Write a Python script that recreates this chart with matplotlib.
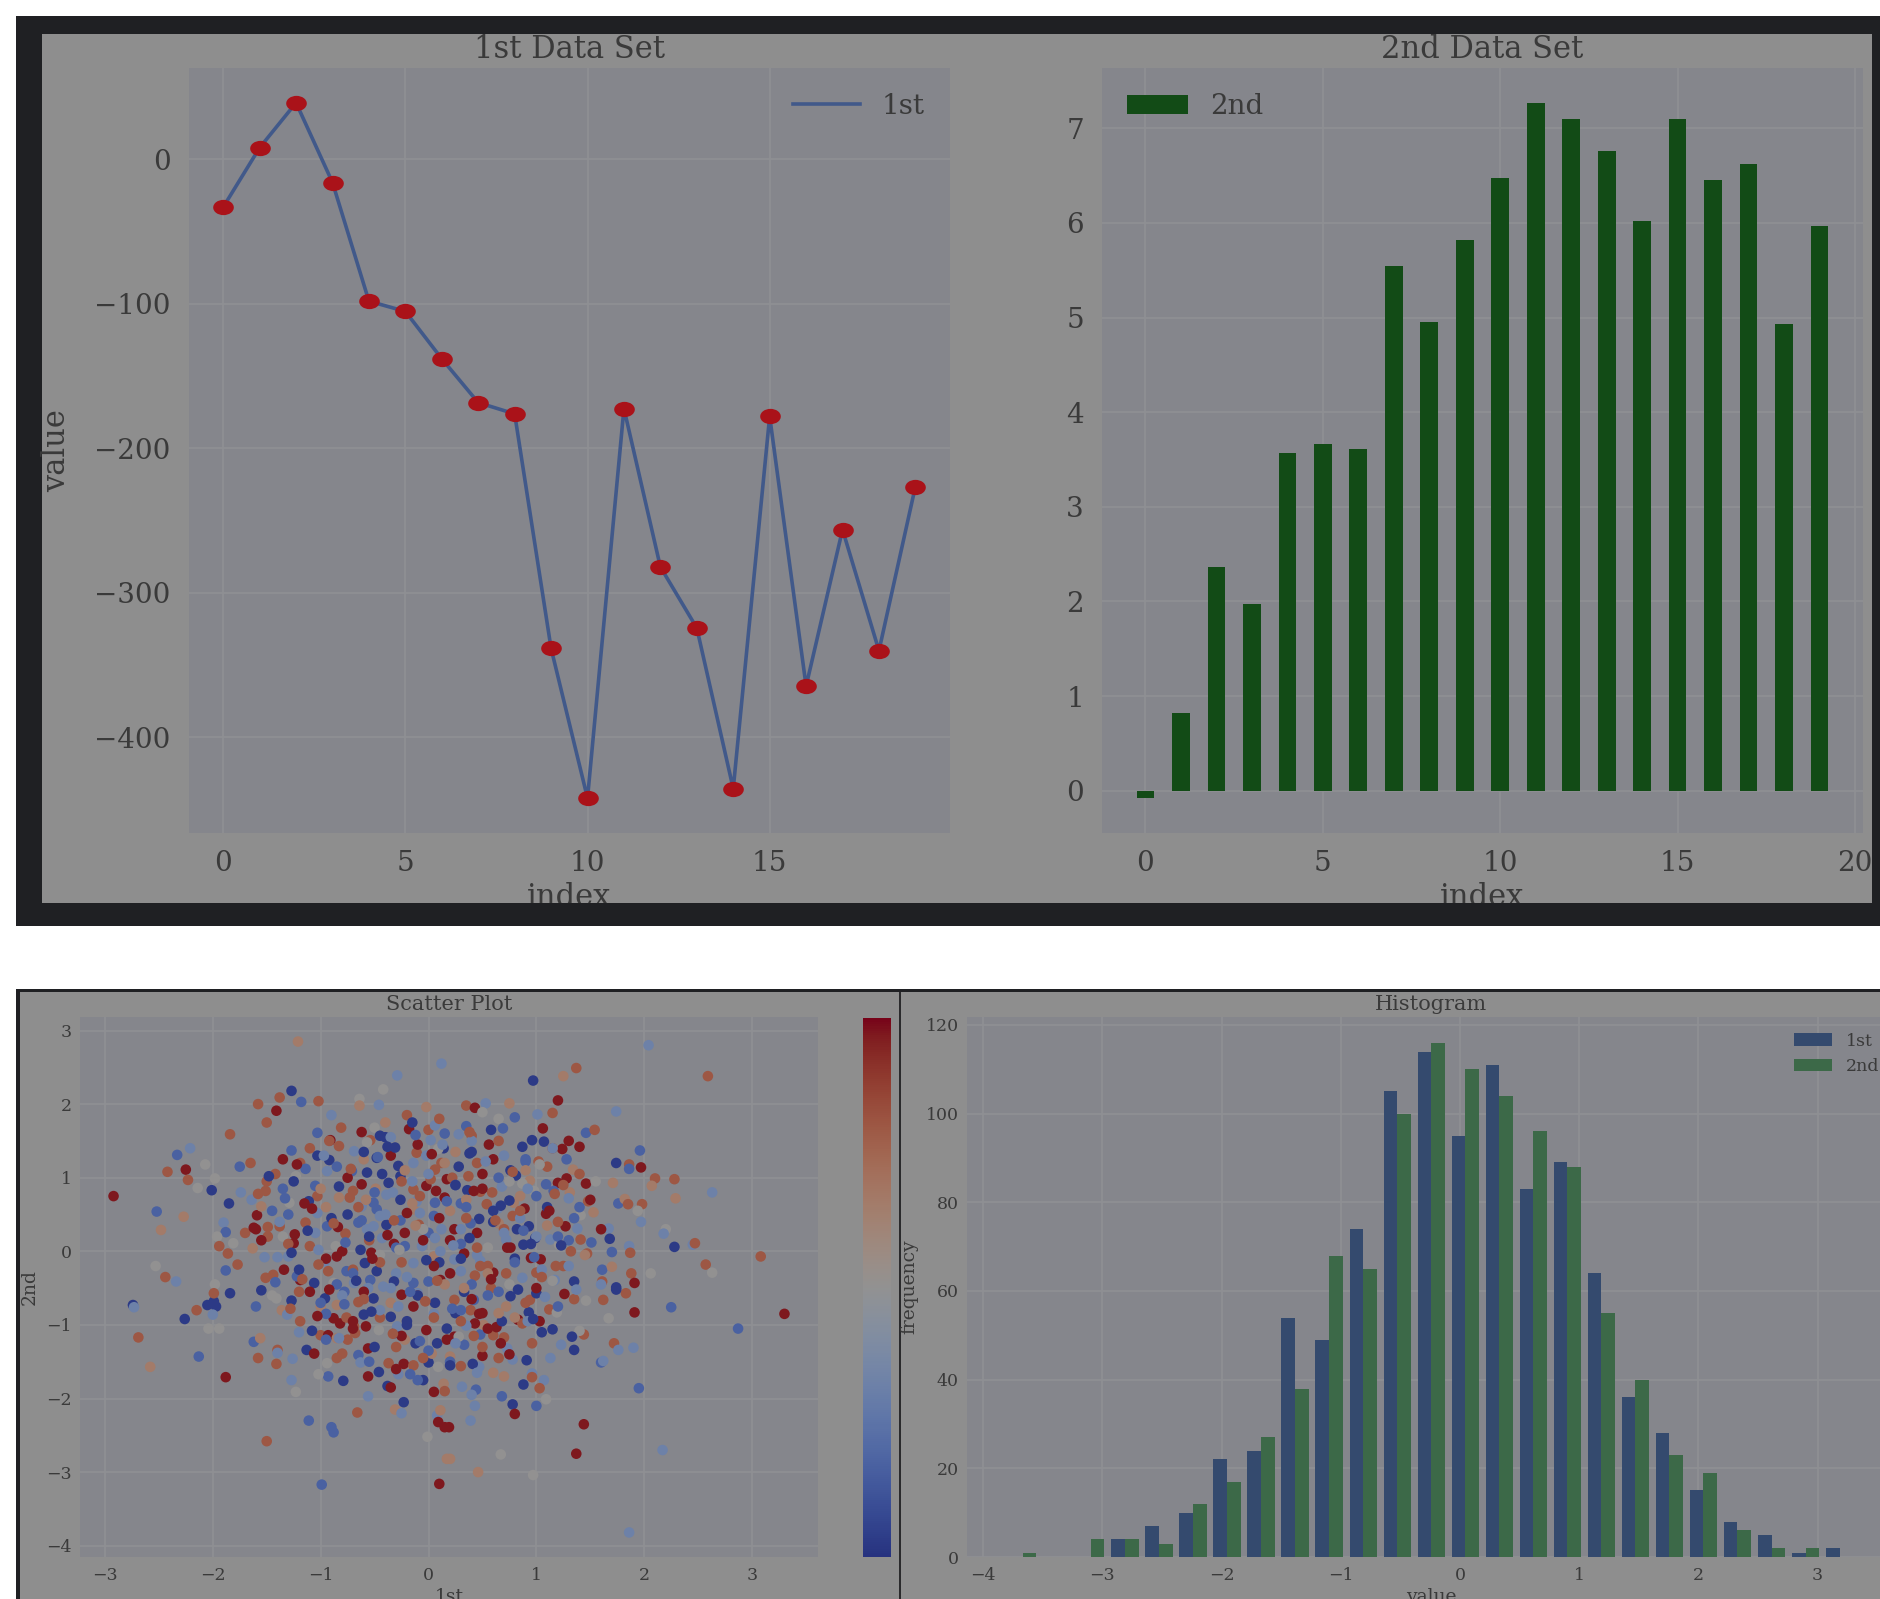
import numpy as np
import matplotlib
matplotlib.use("Agg")
import matplotlib.pyplot as plt
from matplotlib.colors import ListedColormap
from matplotlib.markers import MarkerStyle
from matplotlib.patches import Rectangle
from matplotlib.transforms import Affine2D

# canvas in pixels (dpi 100)
W, H = 1880, 1599

# ---------------- data ----------------
index = np.arange(20)
first_series = [-33.2, 7.9, 39.0, -16.2, -98.3, -105.4, -138.2, -168.5, -176.3, -338.6,
                -442.3, -172.6, -282.2, -324.5, -435.7, -178.0, -364.7, -256.4, -340.2, -226.6]
second_series = [-0.08, 0.82, 2.36, 1.97, 3.57, 3.66, 3.61, 5.54, 4.95, 5.82,
                 6.47, 7.27, 7.10, 6.76, 6.02, 7.10, 6.45, 6.62, 4.93, 5.97]

# histogram: 25 bins between the smallest and largest sample
hist_lo, hist_hi = -3.81, 3.327
hist_1st = [0, 0, 0, 4, 7, 10, 22, 24, 54, 49, 74, 105, 114, 95, 111, 83, 89, 64, 36, 28, 15, 8, 5, 1, 2]
hist_2nd = [1, 0, 4, 4, 3, 12, 17, 27, 38, 68, 65, 100, 116, 110, 104, 96, 88, 55, 40, 23, 19, 6, 2, 2, 0]

# scatter points, grouped by region; colour shade as a letter code
# upper left
sc_ul_x = [-1.21, 0.12, -0.29, -0.42, -1.27, -1.38, -1.18, -1.02, -1.58, -1.41,
           -1.50, -0.64, -0.64, -0.46, -0.02, -1.84, -0.81, -1.03, -0.91, -0.40,
           -0.50, -0.18, 0.00, 0.06, -0.40, -0.54, -2.33, -2.21, -2.42, -2.25,
           -2.23, -2.07, -1.98, -2.14, -2.01, -1.75, -1.27, -1.19, -1.03, -0.92,
           -0.83, -0.69, -1.14, -0.94, -1.42, -1.50, -1.23, -2.92, -2.52, -2.27,
           -2.48, -1.85, -1.74, -1.64, -1.51, -1.59, -1.55, -1.90, -1.88, -1.96,
           -1.70, -1.94, -1.86, -1.77, -1.88, -1.81, -1.63, -1.49, -1.38, -1.49,
           -1.35, -1.24, -1.25, -1.40, -1.30, -1.14, -1.03, -1.03, -1.05, -1.11,
           -1.29, -2.53, -2.44, -2.34, -1.19, -1.34, -1.44, -1.51, -1.10, -1.02,
           -0.96, -0.85, -0.93, -0.77, -0.84, -0.94, -0.86, -0.63, -0.53, -0.59,
           -0.76, -0.48, -0.32, -0.43, -0.22, -0.14, -0.30, -0.06, 0.05, 0.11,
           -0.39, -0.26, -0.51, -0.57, -0.65, -0.09, 0.00, 0.06, -0.22, -0.14,
           0.05, -0.20, -0.32, -0.48, -0.62, -0.73, -0.83, -0.70, -0.62, -0.49,
           -0.39, -0.37, -0.26, -0.43, -0.57, -0.71, -0.14, -0.02, 0.07, 0.15,
           0.06, -0.11, 0.02, 0.06, -0.14, -0.28, -0.35, -0.48, -0.31, -0.45,
           -0.11, -0.02, 0.14, 0.09, 0.02, -0.57, 0.12, 0.17, -0.08, -0.45,
           -0.51, -0.26, -0.14, -0.32, -0.54, -0.69, -0.88, 0.00, 0.11, -1.06,
           -1.22, -1.98]
sc_ul_y = [2.85, 2.55, 2.39, 2.20, 2.18, 2.09, 2.03, 2.04, 2.00, 1.91,
           1.75, 2.07, 1.98, 1.99, 1.96, 1.59, 1.68, 1.61, 1.51, 1.75,
           1.68, 1.66, 1.65, 1.71, 1.55, 1.51, 1.31, 1.40, 1.08, 1.11,
           0.97, 1.18, 0.99, 0.86, 0.83, 1.15, 1.37, 1.20, 1.30, 1.24,
           1.43, 1.36, 1.12, 1.09, 1.05, 0.95, 1.02, 0.75, 0.54, 0.47,
           0.29, 0.65, 0.80, 0.70, 0.82, 0.49, 0.61, 0.39, 0.26, 0.20,
           0.25, 0.07, -0.03, -0.18, -0.26, 0.11, 0.04, 0.33, 0.34, 0.20,
           0.20, 0.23, 0.11, -0.08, -0.07, 0.39, 0.52, 0.75, 0.89, 0.68,
           0.66, -0.20, -0.35, -0.41, -0.39, -0.25, -0.32, -0.36, 0.07, 0.02,
           -0.14, -0.07, -0.27, 0.24, 0.33, 0.34, 0.07, 0.02, -0.02, -0.16,
           -0.27, -0.27, 0.10, 0.18, 0.07, -0.16, -0.30, 0.07, -0.07, 0.00,
           0.36, 0.42, 0.34, 0.30, 0.39, 0.36, 0.25, 0.18, 0.25, 0.57,
           0.48, 0.52, 0.42, 0.57, 0.61, 0.73, 0.73, 0.82, 0.91, 0.85,
           0.77, 0.93, 1.02, 1.05, 1.07, 1.09, 0.84, 0.89, 0.82, 0.73,
           0.66, 0.68, 0.98, 1.11, 1.20, 1.16, 1.30, 1.27, 1.41, 1.57,
           1.34, 1.30, 1.40, 1.39, 1.51, 1.48, 1.20, 0.98, 0.52, 0.48,
           0.66, 0.70, -0.43, -0.41, -0.39, -0.43, -0.43, -0.41, -0.39, -0.43,
           -0.34, -0.45]
sc_ul_c = ("PLLGNOBOOR" "OGPLPOOBRP" "GROLNOBLOR" "OGGGNBBONN" "OLBLOOGRBP"
           "PNLLORPLBG" "OOOOBGPOOO" "GRRLLOLOBN" "GGOLRROOOL" "LROORBGNRN"
           "BNRLBLLLPL" "NBLLBOBLRP" "BROBLOPORP" "LNNNNBORRR" "BLOOLNRNNN"
           "OLNGLGORLL" "BNBNBLGBRN" "BG")

# upper right
sc_ur_x = [2.04, 1.37, 1.25, 2.59, 0.97, 1.20, 0.75, 0.53, 0.35, 0.43,
           0.50, 0.80, 1.01, 1.15, 1.74, 0.65, 1.06, 1.46, 1.54, 0.58,
           0.69, 0.28, 0.40, 0.96, 1.07, 1.30, 1.40, 1.24, 1.15, 0.56,
           0.87, 0.38, 0.25, 1.96, 1.74, 1.86, 1.86, 1.97, 0.60, 0.90,
           1.02, 1.10, 0.76, 0.81, 1.34, 2.10, 2.28, 2.07, 2.29, 2.63,
           1.71, 1.46, 1.28, 1.20, 0.94, 1.09, 0.37, 0.22, 0.36, 0.48,
           0.59, 0.68, 0.87, 0.98, 1.16, 1.31, 1.30, 1.48, 1.76, 1.82,
           1.85, 1.98, 1.94, 1.97, 1.53, 1.41, 1.09, 0.89, 0.79, 0.75,
           0.30, 0.54, 0.64, 0.47, 0.39, 0.24, 0.65, 0.78, 0.93, 0.82,
           1.27, 1.38, 1.67, 1.68, 1.86, 1.70, 1.87, 2.20, 2.18, 2.28,
           2.45, 2.47, 3.08, 2.57, 2.63, 0.99, 0.88, 0.72, 1.13, 1.21,
           1.41, 1.51, 1.47, 1.32, 1.04, 0.95, 0.76, 0.48, 0.33, 0.24,
           0.30, 0.43, 0.60, 0.72, 0.87, 1.00, 1.18, 1.25, 1.35, 1.17,
           1.61, 1.70, 1.88, 2.06, 1.91, 1.61, 1.74]
sc_ur_y = [2.80, 2.49, 2.38, 2.38, 2.32, 2.05, 2.01, 2.01, 1.98, 1.95,
           1.89, 1.82, 1.86, 1.88, 1.90, 1.80, 1.67, 1.61, 1.65, 1.65,
           1.67, 1.59, 1.57, 1.51, 1.49, 1.50, 1.42, 1.39, 1.40, 1.45,
           1.42, 1.33, 1.35, 1.37, 1.20, 1.18, 1.12, 1.14, 1.25, 1.22,
           1.22, 1.15, 1.10, 1.03, 1.11, 0.99, 0.98, 0.89, 0.72, 0.80,
           0.93, 0.92, 0.99, 0.93, 0.96, 0.91, 1.02, 1.00, 0.83, 0.81,
           0.80, 0.88, 0.92, 0.82, 0.82, 0.80, 0.72, 0.68, 0.65, 0.71,
           0.64, 0.64, 0.55, 0.40, 0.53, 0.49, 0.51, 0.58, 0.66, 0.69,
           0.65, 0.64, 0.58, 0.44, 0.38, 0.30, 0.38, 0.48, 0.34, 0.30,
           0.34, 0.31, 0.31, 0.17, 0.07, -0.01, -0.02, 0.30, 0.24, 0.06,
           0.09, 0.11, -0.07, -0.18, -0.29, 0.18, 0.09, 0.16, 0.16, 0.09,
           0.16, 0.12, -0.03, 0.00, -0.11, -0.09, 0.05, -0.13, -0.03, -0.11,
           -0.27, -0.33, -0.29, -0.30, -0.36, -0.29, -0.20, -0.20, -0.41, -0.39,
           -0.25, -0.21, -0.30, -0.30, -0.43, -0.41, -0.49]
sc_ur_c = ("LOPONRPLOR" "GBLOLGRBON" "BLONNRRROR" "NNPBNOBRRB" "OONNPOOPPL"
           "PRRRPBOONO" "OLGGBPLOBP" "OOGLPGRRPN" "BOLNBRPONN" "RLLNLBOGLN"
           "LOOOGNNLLG" "OBOORRRLRL" "LOROLOOONL" "BPOGRON")

# lower left
sc_ll_x = [-2.74, -2.73, -2.69, -2.58, -2.26, -2.15, -2.13, -2.05, -1.99, -1.97,
           -2.00, -2.04, -1.94, -1.99, -1.84, -1.88, -1.62, -1.56, -1.58, -1.40,
           -1.40, -1.41, -1.26, -1.27, -1.23, -1.55, -1.41, -1.36, -1.31, -1.27,
           -1.19, -1.00, -0.96, -0.85, -0.78, -0.65, -0.88, -0.82, -0.76, -0.60,
           -1.13, -1.06, -1.00, -0.93, -0.85, -0.68, -0.69, -0.56, -0.85, -0.80,
           -0.65, -0.63, -0.93, -0.79, -1.02, -0.94, -0.56, -0.46, -0.38, -0.56,
           -0.37, -0.23, -0.14, -0.28, -0.17, -0.05, 0.00, 0.05, 0.14, 0.09,
           -0.23, -0.31, -0.25, -0.66, -1.11, -0.90, -0.88, -1.50, -0.99, 0.10,
           -0.01, 0.08, 0.09, 0.15, 0.17, 0.11, -0.56, -0.46, -0.31, -0.12,
           0.08, -0.02, -0.29, -0.14, -0.25, -0.10, -0.35, -0.51, 0.06, -0.22,
           0.03, 0.17]
sc_ll_y = [-0.73, -0.76, -1.17, -1.57, -0.92, -0.80, -1.43, -0.73, -0.68, -0.75,
           -0.86, -1.05, -1.05, -0.57, -0.57, -1.71, -1.23, -1.18, -1.45, -1.34,
           -1.38, -1.53, -1.46, -1.75, -1.91, -0.53, -0.64, -0.80, -0.86, -0.67,
           -0.95, -0.75, -0.64, -0.73, -0.55, -0.69, -0.91, -0.98, -0.90, -0.86,
           -1.34, -1.39, -1.14, -1.14, -1.18, -1.11, -1.02, -1.32, -1.45, -1.39,
           -1.41, -1.51, -1.70, -1.76, -1.67, -1.52, -1.70, -1.64, -1.83, -1.97,
           -1.52, -1.53, -1.55, -1.67, -1.67, -1.75, -1.51, -1.91, -1.80, -1.57,
           -2.05, -2.15, -2.20, -2.19, -2.30, -2.39, -2.46, -2.58, -3.17, -3.16,
           -2.52, -2.23, -2.32, -2.39, -2.82, -2.16, -0.50, -1.07, -1.11, -1.25,
           -1.25, -1.07, -1.02, -0.75, -0.59, -0.57, -0.89, -0.64, -0.70, -1.20,
           -1.39, -1.20]
sc_ll_c = ("NLOPNOBNNN" "LGGONRBPOO" "LOLLGNGPLN" "OPNPBORRON" "NRORPOOROO"
           "BLBNGGRNNL" "OROLBNNRPG" "NPLOBBBOBR" "GLRRPPLGNN" "NRLRRLNNNP"
           "PR")

# lower right
sc_lr_x = [2.25, 3.30, 2.87, 1.91, 1.67, 1.72, 1.76, 1.90, 1.60, 1.62,
           1.95, 1.44, 1.40, 1.33, 1.35, 1.15, 1.23, 1.13, 0.96, 0.91,
           1.03, 0.93, 1.12, 1.19, 1.35, 1.46, 1.62, 1.83, 1.74, 0.96,
           0.96, 1.07, 0.88, 1.03, 1.09, 1.00, 0.78, 0.68, 0.80, 1.44,
           1.37, 2.17, 0.67, 0.46, 0.97, 1.86, 0.44, 0.31, 0.43, 0.39,
           0.20, 0.19, 0.65, 0.78, 0.50, 0.47, 0.41, 0.30, 0.33, 0.20,
           0.73, 0.48, 0.60, 0.70, 0.63, 0.68, 0.51, 0.43, 0.35, 0.24,
           0.28, 0.83, 0.87, 0.92, 0.65, 0.50, 0.39, 0.25, 0.33, 0.42,
           0.24, 0.76, 0.94, 1.00, 1.26, 1.37, 0.58]
sc_lr_y = [-0.76, -0.85, -1.05, -0.83, -0.91, -1.25, -1.34, -1.31, -1.51, -1.49,
           -1.86, -1.13, -1.08, -1.16, -1.34, -1.06, -1.27, -1.45, -1.25, -1.48,
           -0.95, -0.83, -0.79, -0.83, -0.65, -0.67, -0.66, -0.57, -0.52, -1.66,
           -1.71, -1.75, -1.81, -1.86, -2.01, -2.10, -2.08, -1.97, -2.21, -2.35,
           -2.75, -2.70, -2.76, -3.00, -3.04, -3.82, -1.88, -1.84, -2.10, -2.30,
           -2.82, -2.39, -1.45, -1.47, -1.42, -1.57, -1.53, -1.56, -1.27, -1.43,
           -1.32, -1.13, -1.14, -1.17, -1.03, -0.95, -1.00, -0.98, -1.01, -1.16,
           -1.16, -0.93, -0.98, -0.95, -0.84, -0.84, -0.80, -0.84, -0.55, -0.66,
           -0.66, -0.61, -0.66, -0.57, -0.58, -0.52, -0.50]
sc_lr_c = ("BRBRGOLLBL" "BOGNNNLLON" "RNOGOGOONL" "OLNOGBNBRR" "RLGPGLBLLL"
           "PROLRLNOBP" "LBOORNPRLR" "GROLPRONNB" "ONONRLO")

# dense middle of the cloud
sc_mid_x = [0.30, 0.45, 0.55, 0.70, 0.85, 0.60, 0.35, 0.25, 0.45, 0.70,
            0.90, 1.10, 1.20, 1.30, 1.05, 0.80, 0.55, 0.40, 0.20, -0.10,
            -0.35, -0.60, -0.80, -1.00, -1.20, -1.45, -1.60, -0.45, -0.20, 0.05,
            0.30, 0.55, 0.75, 1.00, 1.20, -0.70, -0.95, -1.20, -0.30, 0.20,
            0.60, -0.55, -0.75, -0.95, -1.30, -1.60, -0.15, 0.35, 0.50, 0.65,
            0.85, 1.00, 1.40, 1.55, 1.60, 0.15, 0.40, -0.20, -0.90, -0.60,
            -1.35, -1.65, -0.25, 0.30, -0.05, 0.20, -0.45, -0.70, 0.10, 0.45]
sc_mid_y = [0.10, 0.25, 0.05, 0.30, 0.45, 0.55, 0.70, 0.90, 1.20, 1.30,
            1.10, 0.60, 0.40, 0.15, -0.25, -0.10, -0.20, -0.45, -0.30, -0.60,
            -0.70, -0.55, -0.60, -0.70, -0.55, -0.60, -0.75, -0.90, -0.95, -0.85,
            -0.95, -0.60, -0.45, -0.50, -0.75, -1.05, -1.20, -1.10, -1.30, -1.50,
            -1.65, 0.15, 0.50, 0.60, 0.50, 0.30, 0.95, 0.45, 0.85, 1.00,
            0.75, 0.20, 0.60, 0.95, 0.30, 1.60, 1.50, 1.85, 1.85, 1.25,
            0.85, 1.20, -0.15, 0.30, 0.15, 0.55, -0.05, -0.25, -0.15, -0.05]
sc_mid_c = ("BRGOLNPBOL" "PNOBLNOBRO" "PRLBOGBONL" "OBGRBRBLOB" "PONPBRLORB"
            "PLBGRBLOLP" "BOOLRPGONL")

# more of the crowded core, estimated
sc_core_x = [-1.35, -1.10, -0.85, -0.60, -0.35, -0.10, 0.15, 0.40, 0.65, 0.90, 1.15, 1.40,
             -1.25, -1.00, -0.75, -0.50, -0.25, 0.00, 0.25, 0.50, 0.75, 1.00, 1.25, 1.50,
             -1.45, -1.15, -0.90, -0.65, -0.40, -0.15, 0.10, 0.35, 0.60, 0.85, 1.10, 1.35,
             -1.30, -1.05, -0.80, -0.55, -0.30, -0.05, 0.20, 0.45, 0.70, 0.95, 1.20, 1.45,
             -1.20, -0.95, -0.70, -0.45, -0.20, 0.05, 0.30, 0.55, 0.80, 1.05, 1.30,
             -1.10, -0.85, -0.60, -0.35, -0.10, 0.15, 0.40, 0.65, 0.90, 1.15,
             -0.95, -0.70, -0.45, -0.20, 0.05, 0.30, 0.55, 0.80, 1.05,
             -0.75, -0.50, -0.25, 0.00, 0.25, 0.50, 0.75,
             -0.55, -0.30, -0.05, 0.20, 0.45, 0.70,
             -0.35, -0.10, 0.15, 0.40,
             -0.15, 0.10, 0.35, -1.55, 1.60]
sc_core_y = [1.25, 1.40, 1.15, 1.35, 1.55, 1.45, 1.20, 1.35, 1.50, 1.25, 1.40, 1.05,
             0.95, 0.85, 1.00, 0.80, 0.95, 1.05, 0.90, 1.05, 0.95, 0.75, 0.90, 0.70,
             0.55, 0.65, 0.45, 0.60, 0.50, 0.65, 0.45, 0.60, 0.40, 0.55, 0.35, 0.45,
             0.10, 0.25, 0.00, 0.20, 0.05, 0.30, 0.15, 0.05, 0.25, 0.10, 0.20, -0.05,
             -0.25, -0.10, -0.30, -0.15, -0.35, -0.20, -0.10, -0.30, -0.15, -0.35, -0.20,
             -0.55, -0.45, -0.65, -0.50, -0.60, -0.45, -0.65, -0.55, -0.70, -0.40,
             -0.85, -0.95, -0.80, -1.00, -0.90, -0.80, -1.05, -0.90, -1.10,
             -1.20, -1.30, -1.15, -1.35, -1.25, -1.30, -1.40,
             -1.50, -1.60, -1.45, -1.55, -1.65, -1.70,
             -1.85, -1.75, -1.90, -1.95,
             1.75, 1.80, 1.70, 0.15, -0.45]
sc_core_c = ("ROBNLRPNOBLO" "NPRBOLNRGBOR" "BRNOLPRBNOPB" "OLRNBGROLNBP"
             "NRBOLRNPBOL" "RBOLNPRBOG" "BRLNOBRPN" "ONRBLOR" "BRONLP" "RBOL" "NOBRL")

# gaps between the core points, estimated
sc_fill_x = [-1.48, -1.22, -0.97, -0.72, -0.47, -0.22, 0.03, 0.28, 0.53, 0.78, 1.03, 1.28,
             -1.58, -1.33, -1.08, -0.83, -0.58, -0.33, -0.08, 0.17, 0.42, 0.67, 0.92, 1.17,
             -1.62, -1.38, -1.12, -0.88, -0.62, -0.38, -0.12, 0.12, 0.38, 0.62, 0.88, 1.12,
             -1.52, -1.27, -1.02, -0.77, -0.52, -0.27, -0.02, 0.23, 0.48, 0.73, 0.98, 1.23,
             -1.42, -1.17, -0.92, -0.67, -0.42, -0.17, 0.08, 0.33, 0.58, 0.83, 1.08,
             -1.28, -1.03, -0.78, -0.53, -0.28, -0.03, 0.22, 0.47, 0.72, 0.97,
             -1.08, -0.83, -0.58, -0.33, -0.08, 0.17, 0.42, 0.67,
             -0.92, -0.62, -0.38, -0.12, 0.13, 0.38]
sc_fill_y = [1.02, 1.18, 1.30, 1.12, 1.28, 1.10, 1.32, 1.15, 1.22, 1.08, 1.18, 1.25,
             0.78, 0.72, 0.58, 0.88, 0.70, 0.80, 0.75, 0.68, 0.82, 0.62, 0.85, 0.78,
             0.32, 0.40, 0.28, 0.38, 0.42, 0.22, 0.35, 0.30, 0.18, 0.42, 0.28, 0.55,
             -0.08, -0.02, -0.18, 0.12, -0.10, 0.02, -0.12, 0.08, -0.20, 0.05, -0.08, 0.08,
             -0.42, -0.38, -0.52, -0.40, -0.48, -0.55, -0.40, -0.50, -0.38, -0.52, -0.62,
             -0.78, -0.88, -0.72, -0.82, -0.75, -0.68, -0.78, -0.85, -0.75, -0.92,
             -1.08, -1.18, -1.02, -1.12, -1.22, -1.05, -1.15, -1.25,
             1.50, 1.62, 1.42, 1.58, 1.45, 1.62]
sc_fill_c = ("NRLOBPRNLOGB" "OBRNPLOBRNLO" "RLNOBRPLNOBR" "LNOBRGNLORBN"
             "BORNLBOPRNL" "ORBNLOBRPN" "NLROBNOR" "ORNBLO")

shade = {'N': 0.03, 'B': 0.17, 'L': 0.32, 'G': 0.5, 'P': 0.66, 'O': 0.8, 'R': 0.97}

# ---------------- colours (the screenshot is dimmed) ----------------
PAGE = 'white'
FRAME = '#1f2023'
FIG_BG = '#8e8e8e'
AX_BG = '#85868c'
GRID = '#8f9094'
TEXT = '#3a3a3a'
LINE = '#41598a'
RED = '#aa1219'
BAR_GREEN = '#124b16'
HIST_BLUE = '#344a6e'
HIST_GREEN = '#3c6948'

base = plt.get_cmap('coolwarm')(np.linspace(0, 1, 256))
base[:, :3] *= 0.66
dim_coolwarm = ListedColormap(base)

plt.rcParams['font.family'] = 'DejaVu Serif'

fig = plt.figure(figsize=(W / 100, H / 100), dpi=100, facecolor=PAGE)


def px_box(x0, y0, x1, y1):
    return [x0 / W, 1 - y1 / H, (x1 - x0) / W, (y1 - y0) / H]


def add_rect(x0, y0, x1, y1, color, z):
    fig.add_artist(Rectangle((x0 / W, 1 - y1 / H), (x1 - x0) / W, (y1 - y0) / H,
                             transform=fig.transFigure, facecolor=color,
                             edgecolor='none', zorder=z))


def style_axes(ax):
    ax.set_facecolor(AX_BG)
    ax.grid(True, color=GRID, linewidth=1.2)
    ax.set_axisbelow(True)
    for s in ax.spines.values():
        s.set_visible(False)
    ax.tick_params(length=0, colors=TEXT)


# screenshot frames
add_rect(16, 16, 1880, 926, FRAME, -10)
add_rect(42, 34, 1872, 903, FIG_BG, -9)
add_rect(16, 903, 1880, 926, FRAME, 5)   # hides the bottom of "index"
add_rect(16, 989, 1880, 1599, FRAME, -10)
add_rect(20, 992, 1880, 1599, FIG_BG, -9)
add_rect(898.5, 992, 900.5, 1599, '#2a2a2c', -8)

# ---- 1st data set: line with markers ----
ax1 = fig.add_axes(px_box(188.6, 68, 950, 833))
style_axes(ax1)
ax1.plot(index, first_series, color=LINE, lw=2.6, label='1st', zorder=2)
oval = MarkerStyle('o', transform=Affine2D().scale(1.35, 1.0))
ax1.plot(index, first_series, linestyle='none', marker=oval, markersize=11,
         color=RED, markeredgewidth=0, zorder=3)
ax1.set_xticks([0, 5, 10, 15])
ax1.set_yticks([0, -100, -200, -300, -400])
ax1.tick_params(axis='x', labelsize=20, pad=12)
ax1.tick_params(axis='y', labelsize=20, pad=13)
ax1.set_title('1st Data Set', fontsize=22, color=TEXT, pad=7)
ax1.set_xlabel('index', fontsize=22, color=TEXT, labelpad=4)
ax1.set_ylabel('value', fontsize=22, color=TEXT, labelpad=16)
leg1 = ax1.legend(loc='upper right', frameon=False, handlelength=2.4, fontsize=20)
for t in leg1.get_texts():
    t.set_color(TEXT)

# ---- 2nd data set: bars ----
ax2 = fig.add_axes(px_box(1102, 68, 1863, 833))
style_axes(ax2)
ax2.bar(index, second_series, width=0.5, color=BAR_GREEN, label='2nd')
ax2.set_xticks([0, 5, 10, 15, 20])
ax2.set_yticks(range(8))
ax2.tick_params(axis='x', labelsize=20, pad=12)
ax2.tick_params(axis='y', labelsize=20, pad=13)
ax2.set_title('2nd Data Set', fontsize=22, color=TEXT, pad=7)
ax2.set_xlabel('index', fontsize=22, color=TEXT, labelpad=4)
leg2 = ax2.legend(loc='upper left', frameon=False, handlelength=2.2, fontsize=20)
for t in leg2.get_texts():
    t.set_color(TEXT)

# ---- scatter plot ----
sx = sc_ul_x + sc_ur_x + sc_ll_x + sc_lr_x + sc_mid_x + sc_core_x + sc_fill_x
sy = sc_ul_y + sc_ur_y + sc_ll_y + sc_lr_y + sc_mid_y + sc_core_y + sc_fill_y
sc_codes = sc_ul_c + sc_ur_c + sc_ll_c + sc_lr_c + sc_mid_c + sc_core_c + sc_fill_c
sc_vals = [shade[k] for k in sc_codes]

ax3 = fig.add_axes(px_box(80, 1017, 818, 1557))
style_axes(ax3)
sc = ax3.scatter(sx, sy, c=sc_vals, cmap=dim_coolwarm, vmin=0, vmax=1, s=58,
                 linewidths=0, zorder=2)
ax3.set_xticks(range(-3, 4))
ax3.set_yticks(range(-4, 4))
ax3.tick_params(axis='x', labelsize=12.5, pad=7)
ax3.tick_params(axis='y', labelsize=12.5, pad=6)
ax3.set_title('Scatter Plot', fontsize=15, color=TEXT, pad=5)
ax3.set_xlabel('1st', fontsize=13.5, color=TEXT, labelpad=3)
ax3.set_ylabel('2nd', fontsize=13.5, color=TEXT, labelpad=5)

cax = fig.add_axes(px_box(862.7, 1018, 891, 1557))
cb = fig.colorbar(sc, cax=cax)
cb.outline.set_visible(False)
cb.set_ticks([])

# ---- histogram ----
ax4 = fig.add_axes(px_box(967, 1017, 1895.4, 1557))
style_axes(ax4)
edges = np.linspace(hist_lo, hist_hi, len(hist_1st) + 1)
mids = (edges[:-1] + edges[1:]) / 2
ax4.hist([mids, mids], bins=edges, weights=[hist_1st, hist_2nd],
         color=[HIST_BLUE, HIST_GREEN], label=['1st', '2nd'], zorder=2)
ax4.set_xticks(range(-4, 4))
ax4.set_yticks(range(0, 121, 20))
ax4.tick_params(axis='x', labelsize=12.5, pad=7)
ax4.tick_params(axis='y', labelsize=12.5, pad=6)
ax4.set_title('Histogram', fontsize=15, color=TEXT, pad=5)
ax4.set_xlabel('value', fontsize=13.5, color=TEXT, labelpad=3)
ax4.set_ylabel('frequency', fontsize=13.5, color=TEXT, labelpad=5)
leg4 = ax4.legend(loc='upper right', frameon=False, handlelength=2.2, fontsize=12.5)
for t in leg4.get_texts():
    t.set_color(TEXT)

fig.savefig('out.png', dpi=100, facecolor=PAGE)
